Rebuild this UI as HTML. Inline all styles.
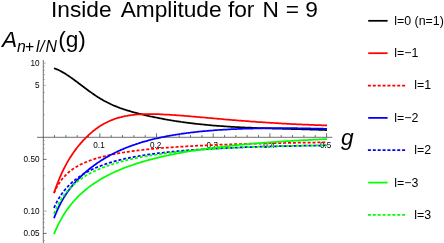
<!DOCTYPE html>
<html><head><meta charset="utf-8"><style>
html,body{margin:0;padding:0;background:#fff;}
body{width:444px;height:243px;overflow:hidden;}
svg{display:block;font-family:"Liberation Sans",sans-serif;will-change:transform;}
</style></head><body>
<svg width="444" height="243" viewBox="0 0 444 243">
<g stroke="#333" stroke-width="0.7" fill="none">
<line x1="37" y1="137.29999999999998" x2="332.3" y2="137.29999999999998"/>
<line x1="43.3" y1="60" x2="43.3" y2="243"/>
<line x1="54.5" y1="137.1" x2="54.5" y2="135.1"/>
<line x1="65.9" y1="137.1" x2="65.9" y2="135.1"/>
<line x1="77.2" y1="137.1" x2="77.2" y2="135.1"/>
<line x1="88.5" y1="137.1" x2="88.5" y2="135.1"/>
<line x1="99.9" y1="137.1" x2="99.9" y2="133.3"/>
<line x1="111.2" y1="137.1" x2="111.2" y2="135.1"/>
<line x1="122.5" y1="137.1" x2="122.5" y2="135.1"/>
<line x1="133.9" y1="137.1" x2="133.9" y2="135.1"/>
<line x1="145.2" y1="137.1" x2="145.2" y2="135.1"/>
<line x1="156.5" y1="137.1" x2="156.5" y2="133.3"/>
<line x1="167.9" y1="137.1" x2="167.9" y2="135.1"/>
<line x1="179.2" y1="137.1" x2="179.2" y2="135.1"/>
<line x1="190.5" y1="137.1" x2="190.5" y2="135.1"/>
<line x1="201.9" y1="137.1" x2="201.9" y2="135.1"/>
<line x1="213.2" y1="137.1" x2="213.2" y2="133.3"/>
<line x1="224.5" y1="137.1" x2="224.5" y2="135.1"/>
<line x1="235.9" y1="137.1" x2="235.9" y2="135.1"/>
<line x1="247.2" y1="137.1" x2="247.2" y2="135.1"/>
<line x1="258.5" y1="137.1" x2="258.5" y2="135.1"/>
<line x1="269.9" y1="137.1" x2="269.9" y2="133.3"/>
<line x1="281.2" y1="137.1" x2="281.2" y2="135.1"/>
<line x1="292.5" y1="137.1" x2="292.5" y2="135.1"/>
<line x1="303.9" y1="137.1" x2="303.9" y2="135.1"/>
<line x1="315.2" y1="137.1" x2="315.2" y2="135.1"/>
<line x1="326.6" y1="137.1" x2="326.6" y2="133.3"/>
<line x1="43.3" y1="63.1" x2="45.599999999999994" y2="63.1" stroke="#888"/>
<line x1="43.3" y1="85.4" x2="45.599999999999994" y2="85.4" stroke="#888"/>
<line x1="43.3" y1="159.4" x2="46.699999999999996" y2="159.4"/>
<line x1="43.3" y1="211.1" x2="46.699999999999996" y2="211.1" stroke="#888"/>
<line x1="43.3" y1="233.4" x2="46.699999999999996" y2="233.4"/>
</g>
<g stroke="#777" stroke-width="0.5" fill="none">
<line x1="43.3" y1="66.5" x2="45.0" y2="66.5"/>
<line x1="43.3" y1="70.3" x2="45.0" y2="70.3"/>
<line x1="43.3" y1="74.6" x2="45.0" y2="74.6"/>
<line x1="43.3" y1="79.5" x2="45.0" y2="79.5"/>
<line x1="43.3" y1="92.5" x2="45.0" y2="92.5"/>
<line x1="43.3" y1="101.8" x2="45.0" y2="101.8"/>
<line x1="43.3" y1="114.8" x2="45.0" y2="114.8"/>
<line x1="43.3" y1="140.5" x2="45.0" y2="140.5"/>
<line x1="43.3" y1="144.3" x2="45.0" y2="144.3"/>
<line x1="43.3" y1="148.6" x2="45.0" y2="148.6"/>
<line x1="43.3" y1="153.5" x2="45.0" y2="153.5"/>
<line x1="43.3" y1="166.5" x2="45.0" y2="166.5"/>
<line x1="43.3" y1="175.8" x2="45.0" y2="175.8"/>
<line x1="43.3" y1="188.8" x2="45.0" y2="188.8"/>
<line x1="43.3" y1="214.5" x2="45.0" y2="214.5"/>
<line x1="43.3" y1="218.3" x2="45.0" y2="218.3"/>
<line x1="43.3" y1="222.6" x2="45.0" y2="222.6"/>
<line x1="43.3" y1="227.5" x2="45.0" y2="227.5"/>
<line x1="43.3" y1="240.5" x2="45.0" y2="240.5"/>
</g>
<g font-size="8.2" fill="#000">
<text x="99.0" y="148.0" text-anchor="middle">0.1</text>
<text x="155.6" y="148.0" text-anchor="middle">0.2</text>
<text x="212.3" y="148.0" text-anchor="middle">0.3</text>
<text x="269.0" y="148.0" text-anchor="middle">0.4</text>
<text x="325.7" y="148.0" text-anchor="middle">0.5</text>
<text x="39.5" y="66.0" text-anchor="end">10</text>
<text x="39.5" y="88.3" text-anchor="end">5</text>
<text x="39.5" y="162.3" text-anchor="end">0.50</text>
<text x="39.5" y="214.0" text-anchor="end">0.10</text>
<text x="39.5" y="236.3" text-anchor="end">0.05</text>
</g>
<g fill="none" stroke-width="1.75" stroke-linecap="butt" stroke-linejoin="round">
<path d="M54.0,68.2 L55.0,68.6 L56.0,69.0 L57.0,69.4 L58.0,69.8 L59.0,70.3 L60.0,70.8 L61.0,71.3 L62.0,71.9 L63.0,72.4 L64.0,73.0 L65.0,73.6 L66.0,74.2 L67.0,74.9 L68.0,75.5 L69.0,76.2 L70.0,76.9 L71.0,77.6 L72.0,78.3 L73.0,79.0 L74.0,79.7 L75.0,80.5 L76.0,81.2 L77.0,81.9 L78.0,82.7 L79.0,83.5 L80.0,84.2 L81.0,85.0 L82.0,85.7 L83.0,86.5 L84.0,87.2 L85.0,88.0 L86.0,88.7 L87.0,89.5 L88.0,90.2 L89.0,91.0 L90.0,91.7 L91.0,92.4 L92.0,93.1 L93.0,93.8 L94.0,94.5 L95.0,95.2 L96.0,95.9 L97.0,96.6 L98.0,97.2 L99.0,97.8 L100.0,98.4 L101.0,99.0 L102.0,99.6 L103.0,100.2 L104.0,100.8 L105.0,101.3 L106.0,101.8 L107.0,102.3 L108.0,102.8 L109.0,103.3 L110.0,103.8 L111.0,104.3 L112.0,104.7 L113.0,105.2 L114.0,105.6 L115.0,106.0 L116.0,106.4 L117.0,106.8 L118.0,107.2 L119.0,107.6 L120.0,108.0 L121.0,108.3 L122.0,108.7 L123.0,109.0 L124.0,109.4 L125.0,109.7 L126.0,110.0 L127.0,110.3 L128.0,110.6 L129.0,110.9 L130.0,111.2 L131.0,111.5 L132.0,111.8 L133.0,112.1 L134.0,112.4 L135.0,112.6 L136.0,112.9 L137.0,113.2 L138.0,113.4 L139.0,113.7 L140.0,113.9 L141.0,114.2 L142.0,114.4 L143.0,114.7 L144.0,114.9 L145.0,115.1 L146.0,115.4 L147.0,115.6 L148.0,115.8 L149.0,116.0 L150.0,116.3 L151.0,116.5 L152.0,116.7 L153.0,116.9 L154.0,117.1 L155.0,117.3 L156.0,117.5 L157.0,117.7 L158.0,117.9 L159.0,118.1 L160.0,118.3 L161.0,118.5 L162.0,118.7 L163.0,118.9 L164.0,119.1 L165.0,119.3 L166.0,119.5 L167.0,119.6 L168.0,119.8 L169.0,120.0 L170.0,120.1 L171.0,120.3 L172.0,120.5 L173.0,120.6 L174.0,120.8 L175.0,121.0 L176.0,121.1 L177.0,121.3 L178.0,121.4 L179.0,121.6 L180.0,121.7 L181.0,121.9 L182.0,122.0 L183.0,122.1 L184.0,122.3 L185.0,122.4 L186.0,122.6 L187.0,122.7 L188.0,122.8 L189.0,122.9 L190.0,123.1 L191.0,123.2 L192.0,123.3 L193.0,123.4 L194.0,123.6 L195.0,123.7 L196.0,123.8 L197.0,123.9 L198.0,124.0 L199.0,124.1 L200.0,124.2 L201.0,124.3 L202.0,124.4 L203.0,124.5 L204.0,124.6 L205.0,124.7 L206.0,124.8 L207.0,124.9 L208.0,125.0 L209.0,125.1 L210.0,125.2 L211.0,125.3 L212.0,125.4 L213.0,125.5 L214.0,125.5 L215.0,125.6 L216.0,125.7 L217.0,125.8 L218.0,125.9 L219.0,125.9 L220.0,126.0 L221.0,126.1 L222.0,126.2 L223.0,126.2 L224.0,126.3 L225.0,126.4 L226.0,126.4 L227.0,126.5 L228.0,126.6 L229.0,126.6 L230.0,126.7 L231.0,126.8 L232.0,126.8 L233.0,126.9 L234.0,126.9 L235.0,127.0 L236.0,127.0 L237.0,127.1 L238.0,127.1 L239.0,127.2 L240.0,127.3 L241.0,127.3 L242.0,127.3 L243.0,127.4 L244.0,127.4 L245.0,127.5 L246.0,127.5 L247.0,127.6 L248.0,127.6 L249.0,127.7 L250.0,127.7 L251.0,127.7 L252.0,127.8 L253.0,127.8 L254.0,127.9 L255.0,127.9 L256.0,127.9 L257.0,128.0 L258.0,128.0 L259.0,128.1 L260.0,128.1 L261.0,128.1 L262.0,128.2 L263.0,128.2 L264.0,128.2 L265.0,128.3 L266.0,128.3 L267.0,128.3 L268.0,128.3 L269.0,128.4 L270.0,128.4 L271.0,128.4 L272.0,128.5 L273.0,128.5 L274.0,128.5 L275.0,128.5 L276.0,128.6 L277.0,128.6 L278.0,128.6 L279.0,128.7 L280.0,128.7 L281.0,128.7 L282.0,128.7 L283.0,128.8 L284.0,128.8 L285.0,128.8 L286.0,128.8 L287.0,128.9 L288.0,128.9 L289.0,128.9 L290.0,128.9 L291.0,129.0 L292.0,129.0 L293.0,129.0 L294.0,129.0 L295.0,129.1 L296.0,129.1 L297.0,129.1 L298.0,129.1 L299.0,129.2 L300.0,129.2 L301.0,129.2 L302.0,129.3 L303.0,129.3 L304.0,129.3 L305.0,129.3 L306.0,129.4 L307.0,129.4 L308.0,129.4 L309.0,129.4 L310.0,129.5 L311.0,129.5 L312.0,129.5 L313.0,129.6 L314.0,129.6 L315.0,129.6 L316.0,129.7 L317.0,129.7 L318.0,129.7 L319.0,129.8 L320.0,129.8 L321.0,129.8 L322.0,129.9 L323.0,129.9 L324.0,129.9 L325.0,130.0 L326.0,130.0 L327.0,130.1" stroke="#000000"/>
<path d="M54.0,193.0 L55.0,190.0 L56.0,187.2 L57.0,184.6 L58.0,182.0 L59.0,179.5 L60.0,177.1 L61.0,174.9 L62.0,172.7 L63.0,170.6 L64.0,168.5 L65.0,166.6 L66.0,164.7 L67.0,162.9 L68.0,161.1 L69.0,159.4 L70.0,157.8 L71.0,156.2 L72.0,154.7 L73.0,153.2 L74.0,151.8 L75.0,150.4 L76.0,149.1 L77.0,147.8 L78.0,146.5 L79.0,145.3 L80.0,144.1 L81.0,142.9 L82.0,141.8 L83.0,140.7 L84.0,139.6 L85.0,138.6 L86.0,137.6 L87.0,136.6 L88.0,135.6 L89.0,134.7 L90.0,133.8 L91.0,132.9 L92.0,132.1 L93.0,131.2 L94.0,130.4 L95.0,129.7 L96.0,128.9 L97.0,128.2 L98.0,127.5 L99.0,126.8 L100.0,126.1 L101.0,125.5 L102.0,124.9 L103.0,124.3 L104.0,123.7 L105.0,123.2 L106.0,122.7 L107.0,122.2 L108.0,121.7 L109.0,121.2 L110.0,120.8 L111.0,120.4 L112.0,120.0 L113.0,119.6 L114.0,119.2 L115.0,118.8 L116.0,118.5 L117.0,118.2 L118.0,117.9 L119.0,117.6 L120.0,117.3 L121.0,117.1 L122.0,116.8 L123.0,116.6 L124.0,116.4 L125.0,116.1 L126.0,116.0 L127.0,115.8 L128.0,115.6 L129.0,115.4 L130.0,115.3 L131.0,115.1 L132.0,115.0 L133.0,114.9 L134.0,114.8 L135.0,114.7 L136.0,114.6 L137.0,114.5 L138.0,114.4 L139.0,114.4 L140.0,114.3 L141.0,114.3 L142.0,114.2 L143.0,114.2 L144.0,114.1 L145.0,114.1 L146.0,114.1 L147.0,114.1 L148.0,114.1 L149.0,114.1 L150.0,114.1 L151.0,114.1 L152.0,114.1 L153.0,114.1 L154.0,114.1 L155.0,114.1 L156.0,114.1 L157.0,114.2 L158.0,114.2 L159.0,114.2 L160.0,114.3 L161.0,114.3 L162.0,114.4 L163.0,114.4 L164.0,114.5 L165.0,114.5 L166.0,114.6 L167.0,114.6 L168.0,114.7 L169.0,114.7 L170.0,114.8 L171.0,114.9 L172.0,114.9 L173.0,115.0 L174.0,115.1 L175.0,115.1 L176.0,115.2 L177.0,115.3 L178.0,115.3 L179.0,115.4 L180.0,115.5 L181.0,115.6 L182.0,115.6 L183.0,115.7 L184.0,115.8 L185.0,115.9 L186.0,116.0 L187.0,116.1 L188.0,116.1 L189.0,116.2 L190.0,116.3 L191.0,116.4 L192.0,116.5 L193.0,116.6 L194.0,116.6 L195.0,116.7 L196.0,116.8 L197.0,116.9 L198.0,117.0 L199.0,117.1 L200.0,117.2 L201.0,117.3 L202.0,117.3 L203.0,117.4 L204.0,117.5 L205.0,117.6 L206.0,117.7 L207.0,117.8 L208.0,117.9 L209.0,118.0 L210.0,118.1 L211.0,118.1 L212.0,118.2 L213.0,118.3 L214.0,118.4 L215.0,118.5 L216.0,118.6 L217.0,118.7 L218.0,118.8 L219.0,118.9 L220.0,118.9 L221.0,119.0 L222.0,119.1 L223.0,119.2 L224.0,119.3 L225.0,119.4 L226.0,119.5 L227.0,119.5 L228.0,119.6 L229.0,119.7 L230.0,119.8 L231.0,119.9 L232.0,120.0 L233.0,120.0 L234.0,120.1 L235.0,120.2 L236.0,120.3 L237.0,120.4 L238.0,120.5 L239.0,120.5 L240.0,120.6 L241.0,120.7 L242.0,120.8 L243.0,120.8 L244.0,120.9 L245.0,121.0 L246.0,121.1 L247.0,121.2 L248.0,121.2 L249.0,121.3 L250.0,121.4 L251.0,121.5 L252.0,121.5 L253.0,121.6 L254.0,121.7 L255.0,121.7 L256.0,121.8 L257.0,121.9 L258.0,122.0 L259.0,122.0 L260.0,122.1 L261.0,122.2 L262.0,122.2 L263.0,122.3 L264.0,122.4 L265.0,122.4 L266.0,122.5 L267.0,122.6 L268.0,122.6 L269.0,122.7 L270.0,122.8 L271.0,122.8 L272.0,122.9 L273.0,122.9 L274.0,123.0 L275.0,123.1 L276.0,123.1 L277.0,123.2 L278.0,123.2 L279.0,123.3 L280.0,123.4 L281.0,123.4 L282.0,123.5 L283.0,123.5 L284.0,123.6 L285.0,123.6 L286.0,123.7 L287.0,123.8 L288.0,123.8 L289.0,123.9 L290.0,123.9 L291.0,124.0 L292.0,124.0 L293.0,124.1 L294.0,124.1 L295.0,124.2 L296.0,124.2 L297.0,124.3 L298.0,124.3 L299.0,124.3 L300.0,124.4 L301.0,124.4 L302.0,124.5 L303.0,124.5 L304.0,124.6 L305.0,124.6 L306.0,124.7 L307.0,124.7 L308.0,124.7 L309.0,124.8 L310.0,124.8 L311.0,124.9 L312.0,124.9 L313.0,124.9 L314.0,125.0 L315.0,125.0 L316.0,125.0 L317.0,125.1 L318.0,125.1 L319.0,125.2 L320.0,125.2 L321.0,125.2 L322.0,125.3 L323.0,125.3 L324.0,125.3 L325.0,125.4 L326.0,125.4 L327.0,125.4" stroke="#ff0000"/>
<path d="M54.0,193.2 L55.0,190.8 L56.0,188.7 L57.0,186.8 L58.0,185.0 L59.0,183.4 L60.0,181.9 L61.0,180.5 L62.0,179.2 L63.0,178.0 L64.0,176.8 L65.0,175.8 L66.0,174.8 L67.0,173.8 L68.0,172.9 L69.0,172.0 L70.0,171.2 L71.0,170.5 L72.0,169.7 L73.0,169.0 L74.0,168.3 L75.0,167.7 L76.0,167.1 L77.0,166.5 L78.0,165.9 L79.0,165.4 L80.0,164.8 L81.0,164.3 L82.0,163.9 L83.0,163.4 L84.0,162.9 L85.0,162.5 L86.0,162.1 L87.0,161.7 L88.0,161.3 L89.0,160.9 L90.0,160.5 L91.0,160.2 L92.0,159.8 L93.0,159.5 L94.0,159.1 L95.0,158.8 L96.0,158.5 L97.0,158.2 L98.0,157.9 L99.0,157.6 L100.0,157.4 L101.0,157.1 L102.0,156.8 L103.0,156.6 L104.0,156.3 L105.0,156.1 L106.0,155.8 L107.0,155.6 L108.0,155.4 L109.0,155.2 L110.0,154.9 L111.0,154.7 L112.0,154.5 L113.0,154.3 L114.0,154.1 L115.0,153.9 L116.0,153.7 L117.0,153.6 L118.0,153.4 L119.0,153.2 L120.0,153.0 L121.0,152.9 L122.0,152.7 L123.0,152.5 L124.0,152.4 L125.0,152.2 L126.0,152.1 L127.0,151.9 L128.0,151.8 L129.0,151.6 L130.0,151.5 L131.0,151.3 L132.0,151.2 L133.0,151.1 L134.0,150.9 L135.0,150.8 L136.0,150.7 L137.0,150.6 L138.0,150.4 L139.0,150.3 L140.0,150.2 L141.0,150.1 L142.0,150.0 L143.0,149.8 L144.0,149.7 L145.0,149.6 L146.0,149.5 L147.0,149.4 L148.0,149.3 L149.0,149.2 L150.0,149.1 L151.0,149.0 L152.0,148.9 L153.0,148.8 L154.0,148.7 L155.0,148.6 L156.0,148.5 L157.0,148.5 L158.0,148.4 L159.0,148.3 L160.0,148.2 L161.0,148.1 L162.0,148.0 L163.0,147.9 L164.0,147.9 L165.0,147.8 L166.0,147.7 L167.0,147.6 L168.0,147.6 L169.0,147.5 L170.0,147.4 L171.0,147.3 L172.0,147.3 L173.0,147.2 L174.0,147.1 L175.0,147.0 L176.0,147.0 L177.0,146.9 L178.0,146.8 L179.0,146.8 L180.0,146.7 L181.0,146.7 L182.0,146.6 L183.0,146.5 L184.0,146.5 L185.0,146.4 L186.0,146.4 L187.0,146.3 L188.0,146.2 L189.0,146.2 L190.0,146.1 L191.0,146.1 L192.0,146.0 L193.0,146.0 L194.0,145.9 L195.0,145.9 L196.0,145.8 L197.0,145.7 L198.0,145.7 L199.0,145.6 L200.0,145.6 L201.0,145.5 L202.0,145.5 L203.0,145.5 L204.0,145.4 L205.0,145.4 L206.0,145.3 L207.0,145.3 L208.0,145.2 L209.0,145.2 L210.0,145.1 L211.0,145.1 L212.0,145.0 L213.0,145.0 L214.0,145.0 L215.0,144.9 L216.0,144.9 L217.0,144.8 L218.0,144.8 L219.0,144.8 L220.0,144.7 L221.0,144.7 L222.0,144.6 L223.0,144.6 L224.0,144.6 L225.0,144.5 L226.0,144.5 L227.0,144.5 L228.0,144.4 L229.0,144.4 L230.0,144.4 L231.0,144.3 L232.0,144.3 L233.0,144.3 L234.0,144.2 L235.0,144.2 L236.0,144.2 L237.0,144.1 L238.0,144.1 L239.0,144.1 L240.0,144.0 L241.0,144.0 L242.0,144.0 L243.0,143.9 L244.0,143.9 L245.0,143.9 L246.0,143.9 L247.0,143.8 L248.0,143.8 L249.0,143.8 L250.0,143.7 L251.0,143.7 L252.0,143.7 L253.0,143.7 L254.0,143.6 L255.0,143.6 L256.0,143.6 L257.0,143.6 L258.0,143.5 L259.0,143.5 L260.0,143.5 L261.0,143.5 L262.0,143.4 L263.0,143.4 L264.0,143.4 L265.0,143.4 L266.0,143.3 L267.0,143.3 L268.0,143.3 L269.0,143.3 L270.0,143.2 L271.0,143.2 L272.0,143.2 L273.0,143.2 L274.0,143.2 L275.0,143.1 L276.0,143.1 L277.0,143.1 L278.0,143.1 L279.0,143.1 L280.0,143.0 L281.0,143.0 L282.0,143.0 L283.0,143.0 L284.0,143.0 L285.0,142.9 L286.0,142.9 L287.0,142.9 L288.0,142.9 L289.0,142.9 L290.0,142.8 L291.0,142.8 L292.0,142.8 L293.0,142.8 L294.0,142.8 L295.0,142.8 L296.0,142.7 L297.0,142.7 L298.0,142.7 L299.0,142.7 L300.0,142.7 L301.0,142.7 L302.0,142.6 L303.0,142.6 L304.0,142.6 L305.0,142.6 L306.0,142.6 L307.0,142.6 L308.0,142.6 L309.0,142.5 L310.0,142.5 L311.0,142.5 L312.0,142.5 L313.0,142.5 L314.0,142.5 L315.0,142.5 L316.0,142.4 L317.0,142.4 L318.0,142.4 L319.0,142.4 L320.0,142.4 L321.0,142.4 L322.0,142.4 L323.0,142.3 L324.0,142.3 L325.0,142.3 L326.0,142.3 L327.0,142.3" stroke="#ff0000" stroke-dasharray="3 1.9"/>
<path d="M54.0,218.3 L55.0,215.6 L56.0,213.2 L57.0,210.8 L58.0,208.6 L59.0,206.5 L60.0,204.5 L61.0,202.6 L62.0,200.8 L63.0,199.0 L64.0,197.4 L65.0,195.8 L66.0,194.2 L67.0,192.8 L68.0,191.3 L69.0,190.0 L70.0,188.6 L71.0,187.3 L72.0,186.1 L73.0,184.9 L74.0,183.7 L75.0,182.5 L76.0,181.4 L77.0,180.4 L78.0,179.3 L79.0,178.3 L80.0,177.3 L81.0,176.3 L82.0,175.3 L83.0,174.4 L84.0,173.5 L85.0,172.6 L86.0,171.8 L87.0,170.9 L88.0,170.1 L89.0,169.3 L90.0,168.5 L91.0,167.7 L92.0,166.9 L93.0,166.2 L94.0,165.4 L95.0,164.7 L96.0,164.0 L97.0,163.3 L98.0,162.6 L99.0,161.9 L100.0,161.3 L101.0,160.6 L102.0,160.0 L103.0,159.4 L104.0,158.8 L105.0,158.2 L106.0,157.6 L107.0,157.0 L108.0,156.4 L109.0,155.9 L110.0,155.3 L111.0,154.8 L112.0,154.3 L113.0,153.7 L114.0,153.2 L115.0,152.7 L116.0,152.2 L117.0,151.8 L118.0,151.3 L119.0,150.8 L120.0,150.4 L121.0,149.9 L122.0,149.5 L123.0,149.1 L124.0,148.6 L125.0,148.2 L126.0,147.8 L127.0,147.4 L128.1,147.0 L129.1,146.6 L130.1,146.2 L131.1,145.9 L132.1,145.5 L133.1,145.2 L134.1,144.8 L135.1,144.5 L136.1,144.1 L137.1,143.8 L138.1,143.5 L139.1,143.1 L140.1,142.8 L141.1,142.5 L142.1,142.2 L143.1,141.9 L144.1,141.6 L145.1,141.3 L146.1,141.1 L147.1,140.8 L148.1,140.5 L149.1,140.2 L150.1,140.0 L151.1,139.7 L152.1,139.5 L153.1,139.2 L154.1,139.0 L155.1,138.7 L156.1,138.5 L157.1,138.3 L158.1,138.1 L159.1,137.8 L160.1,137.6 L161.1,137.4 L162.1,137.2 L163.1,137.0 L164.1,136.8 L165.1,136.6 L166.1,136.4 L167.1,136.2 L168.1,136.0 L169.1,135.8 L170.1,135.6 L171.1,135.5 L172.1,135.3 L173.1,135.1 L174.1,135.0 L175.1,134.8 L176.1,134.6 L177.1,134.5 L178.1,134.3 L179.1,134.2 L180.1,134.0 L181.1,133.9 L182.1,133.7 L183.1,133.6 L184.1,133.4 L185.1,133.3 L186.1,133.2 L187.1,133.0 L188.1,132.9 L189.1,132.8 L190.1,132.7 L191.1,132.5 L192.1,132.4 L193.1,132.3 L194.1,132.2 L195.1,132.1 L196.1,132.0 L197.1,131.8 L198.1,131.7 L199.1,131.6 L200.1,131.5 L201.1,131.4 L202.1,131.3 L203.1,131.2 L204.1,131.1 L205.1,131.1 L206.1,131.0 L207.1,130.9 L208.1,130.8 L209.1,130.7 L210.1,130.6 L211.1,130.5 L212.1,130.5 L213.1,130.4 L214.1,130.3 L215.1,130.2 L216.1,130.2 L217.1,130.1 L218.1,130.0 L219.1,129.9 L220.1,129.9 L221.1,129.8 L222.1,129.8 L223.1,129.7 L224.1,129.6 L225.1,129.6 L226.1,129.5 L227.1,129.5 L228.1,129.4 L229.1,129.4 L230.1,129.3 L231.1,129.2 L232.1,129.2 L233.1,129.2 L234.1,129.1 L235.1,129.1 L236.1,129.0 L237.1,129.0 L238.1,128.9 L239.1,128.9 L240.1,128.9 L241.1,128.8 L242.1,128.8 L243.1,128.7 L244.1,128.7 L245.1,128.7 L246.1,128.6 L247.1,128.6 L248.1,128.6 L249.1,128.6 L250.1,128.5 L251.1,128.5 L252.1,128.5 L253.1,128.5 L254.1,128.4 L255.1,128.4 L256.1,128.4 L257.1,128.4 L258.1,128.3 L259.1,128.3 L260.1,128.3 L261.1,128.3 L262.1,128.3 L263.1,128.3 L264.1,128.2 L265.1,128.2 L266.1,128.2 L267.1,128.2 L268.1,128.2 L269.1,128.2 L270.1,128.2 L271.1,128.2 L272.1,128.2 L273.1,128.2 L274.1,128.2 L275.1,128.2 L276.1,128.1 L277.1,128.1 L278.1,128.1 L279.1,128.1 L280.1,128.1 L281.1,128.1 L282.1,128.1 L283.1,128.1 L284.1,128.1 L285.1,128.2 L286.1,128.2 L287.1,128.2 L288.1,128.2 L289.1,128.2 L290.1,128.2 L291.1,128.2 L292.1,128.2 L293.1,128.2 L294.1,128.2 L295.1,128.2 L296.1,128.2 L297.1,128.2 L298.1,128.3 L299.1,128.3 L300.1,128.3 L301.1,128.3 L302.1,128.3 L303.1,128.3 L304.1,128.3 L305.1,128.4 L306.1,128.4 L307.1,128.4 L308.1,128.4 L309.1,128.4 L310.1,128.4 L311.1,128.5 L312.1,128.5 L313.1,128.5 L314.1,128.5 L315.1,128.6 L316.1,128.6 L317.1,128.6 L318.1,128.6 L319.1,128.6 L320.1,128.7 L321.1,128.7 L322.1,128.7 L323.1,128.7 L324.1,128.8 L325.1,128.8 L326.1,128.8 L327.0,128.9" stroke="#0000ff"/>
<path d="M54.0,207.8 L55.0,205.6 L56.0,203.5 L57.0,201.6 L58.0,199.8 L59.0,198.1 L60.0,196.5 L61.0,195.0 L62.0,193.6 L63.0,192.2 L64.0,190.9 L65.0,189.7 L66.0,188.5 L67.0,187.4 L68.0,186.3 L69.0,185.3 L70.0,184.3 L71.0,183.4 L72.0,182.5 L73.0,181.6 L74.0,180.7 L75.0,179.9 L76.0,179.1 L77.0,178.4 L78.0,177.6 L79.0,176.9 L80.0,176.3 L81.0,175.6 L82.0,175.0 L83.0,174.3 L84.0,173.7 L85.0,173.1 L86.0,172.6 L87.0,172.0 L88.0,171.5 L89.0,171.0 L90.0,170.5 L91.0,170.0 L92.0,169.5 L93.0,169.0 L94.0,168.6 L95.0,168.1 L96.0,167.7 L97.0,167.3 L98.0,166.9 L99.0,166.5 L100.0,166.1 L101.0,165.7 L102.0,165.3 L103.0,165.0 L104.0,164.6 L105.0,164.3 L106.0,163.9 L107.0,163.6 L108.0,163.3 L109.0,163.0 L110.0,162.7 L111.0,162.4 L112.0,162.1 L113.0,161.8 L114.0,161.5 L115.0,161.2 L116.0,160.9 L117.0,160.7 L118.0,160.4 L119.0,160.2 L120.0,159.9 L121.0,159.7 L122.0,159.4 L123.0,159.2 L124.0,159.0 L125.0,158.7 L126.0,158.5 L127.0,158.3 L128.1,158.1 L129.1,157.9 L130.1,157.7 L131.1,157.5 L132.1,157.3 L133.1,157.1 L134.1,156.9 L135.1,156.7 L136.1,156.5 L137.1,156.3 L138.1,156.2 L139.1,156.0 L140.1,155.8 L141.1,155.7 L142.1,155.5 L143.1,155.3 L144.1,155.2 L145.1,155.0 L146.1,154.9 L147.1,154.7 L148.1,154.6 L149.1,154.4 L150.1,154.3 L151.1,154.2 L152.1,154.0 L153.1,153.9 L154.1,153.8 L155.1,153.6 L156.1,153.5 L157.1,153.4 L158.1,153.2 L159.1,153.1 L160.1,153.0 L161.1,152.9 L162.1,152.8 L163.1,152.7 L164.1,152.5 L165.1,152.4 L166.1,152.3 L167.1,152.2 L168.1,152.1 L169.1,152.0 L170.1,151.9 L171.1,151.8 L172.1,151.7 L173.1,151.6 L174.1,151.5 L175.1,151.4 L176.1,151.3 L177.1,151.2 L178.1,151.1 L179.1,151.1 L180.1,151.0 L181.1,150.9 L182.1,150.8 L183.1,150.7 L184.1,150.6 L185.1,150.5 L186.1,150.5 L187.1,150.4 L188.1,150.3 L189.1,150.2 L190.1,150.2 L191.1,150.1 L192.1,150.0 L193.1,149.9 L194.1,149.9 L195.1,149.8 L196.1,149.7 L197.1,149.7 L198.1,149.6 L199.1,149.5 L200.1,149.5 L201.1,149.4 L202.1,149.3 L203.1,149.3 L204.1,149.2 L205.1,149.1 L206.1,149.1 L207.1,149.0 L208.1,149.0 L209.1,148.9 L210.1,148.8 L211.1,148.8 L212.1,148.7 L213.1,148.7 L214.1,148.6 L215.1,148.6 L216.1,148.5 L217.1,148.5 L218.1,148.4 L219.1,148.4 L220.1,148.3 L221.1,148.3 L222.1,148.2 L223.1,148.2 L224.1,148.1 L225.1,148.1 L226.1,148.0 L227.1,148.0 L228.1,147.9 L229.1,147.9 L230.1,147.8 L231.1,147.8 L232.1,147.8 L233.1,147.7 L234.1,147.7 L235.1,147.6 L236.1,147.6 L237.1,147.5 L238.1,147.5 L239.1,147.5 L240.1,147.4 L241.1,147.4 L242.1,147.4 L243.1,147.3 L244.1,147.3 L245.1,147.2 L246.1,147.2 L247.1,147.2 L248.1,147.1 L249.1,147.1 L250.1,147.1 L251.1,147.0 L252.1,147.0 L253.1,147.0 L254.1,146.9 L255.1,146.9 L256.1,146.9 L257.1,146.8 L258.1,146.8 L259.1,146.8 L260.1,146.7 L261.1,146.7 L262.1,146.7 L263.1,146.7 L264.1,146.6 L265.1,146.6 L266.1,146.6 L267.1,146.5 L268.1,146.5 L269.1,146.5 L270.1,146.5 L271.1,146.4 L272.1,146.4 L273.1,146.4 L274.1,146.4 L275.1,146.3 L276.1,146.3 L277.1,146.3 L278.1,146.3 L279.1,146.2 L280.1,146.2 L281.1,146.2 L282.1,146.2 L283.1,146.1 L284.1,146.1 L285.1,146.1 L286.1,146.1 L287.1,146.0 L288.1,146.0 L289.1,146.0 L290.1,146.0 L291.1,146.0 L292.1,145.9 L293.1,145.9 L294.1,145.9 L295.1,145.9 L296.1,145.9 L297.1,145.8 L298.1,145.8 L299.1,145.8 L300.1,145.8 L301.1,145.8 L302.1,145.8 L303.1,145.7 L304.1,145.7 L305.1,145.7 L306.1,145.7 L307.1,145.7 L308.1,145.6 L309.1,145.6 L310.1,145.6 L311.1,145.6 L312.1,145.6 L313.1,145.6 L314.1,145.6 L315.1,145.5 L316.1,145.5 L317.1,145.5 L318.1,145.5 L319.1,145.5 L320.1,145.5 L321.1,145.4 L322.1,145.4 L323.1,145.4 L324.1,145.4 L325.1,145.4 L326.1,145.4 L327.0,145.4" stroke="#0000ff" stroke-dasharray="3 1.9"/>
<path d="M54.0,234.1 L55.0,231.7 L56.0,229.4 L57.0,227.2 L58.0,225.1 L59.0,223.1 L60.0,221.2 L61.0,219.4 L62.0,217.6 L63.0,215.9 L64.0,214.3 L65.0,212.8 L66.0,211.3 L67.0,209.8 L68.0,208.4 L69.0,207.1 L70.0,205.8 L71.0,204.5 L72.0,203.3 L73.0,202.1 L74.0,201.0 L75.0,199.8 L76.0,198.8 L77.0,197.7 L78.0,196.7 L79.0,195.7 L80.0,194.7 L81.0,193.8 L82.0,192.9 L83.0,192.0 L84.0,191.1 L85.0,190.3 L86.0,189.5 L87.0,188.6 L88.0,187.9 L89.0,187.1 L90.0,186.3 L91.0,185.6 L92.0,184.9 L93.0,184.2 L94.0,183.5 L95.0,182.8 L96.0,182.2 L97.0,181.5 L98.0,180.9 L99.0,180.3 L100.0,179.7 L101.0,179.1 L102.0,178.5 L103.0,177.9 L104.0,177.4 L105.0,176.8 L106.0,176.3 L107.0,175.7 L108.0,175.2 L109.0,174.7 L110.0,174.2 L111.0,173.7 L112.0,173.2 L113.0,172.8 L114.0,172.3 L115.0,171.8 L116.0,171.4 L117.0,170.9 L118.0,170.5 L119.0,170.1 L120.0,169.7 L121.0,169.2 L122.0,168.8 L123.0,168.4 L124.0,168.0 L125.0,167.7 L126.0,167.3 L127.0,166.9 L128.1,166.5 L129.1,166.2 L130.1,165.8 L131.1,165.5 L132.1,165.1 L133.1,164.8 L134.1,164.4 L135.1,164.1 L136.1,163.8 L137.1,163.4 L138.1,163.1 L139.1,162.8 L140.1,162.5 L141.1,162.2 L142.1,161.9 L143.1,161.6 L144.1,161.3 L145.1,161.0 L146.1,160.7 L147.1,160.4 L148.1,160.2 L149.1,159.9 L150.1,159.6 L151.1,159.4 L152.1,159.1 L153.1,158.8 L154.1,158.6 L155.1,158.3 L156.1,158.1 L157.1,157.8 L158.1,157.6 L159.1,157.3 L160.1,157.1 L161.1,156.9 L162.1,156.6 L163.1,156.4 L164.1,156.2 L165.1,156.0 L166.1,155.8 L167.1,155.5 L168.1,155.3 L169.1,155.1 L170.1,154.9 L171.1,154.7 L172.1,154.5 L173.1,154.3 L174.1,154.1 L175.1,153.9 L176.1,153.7 L177.1,153.5 L178.1,153.3 L179.1,153.1 L180.1,152.9 L181.1,152.8 L182.1,152.6 L183.1,152.4 L184.1,152.2 L185.1,152.0 L186.1,151.9 L187.1,151.7 L188.1,151.5 L189.1,151.4 L190.1,151.2 L191.1,151.0 L192.1,150.9 L193.1,150.7 L194.1,150.6 L195.1,150.4 L196.1,150.2 L197.1,150.1 L198.1,149.9 L199.1,149.8 L200.1,149.6 L201.1,149.5 L202.1,149.3 L203.1,149.2 L204.1,149.1 L205.1,148.9 L206.1,148.8 L207.1,148.6 L208.1,148.5 L209.1,148.4 L210.1,148.2 L211.1,148.1 L212.1,148.0 L213.1,147.8 L214.1,147.7 L215.1,147.6 L216.1,147.5 L217.1,147.3 L218.1,147.2 L219.1,147.1 L220.1,147.0 L221.1,146.9 L222.1,146.7 L223.1,146.6 L224.1,146.5 L225.1,146.4 L226.1,146.3 L227.1,146.2 L228.1,146.1 L229.1,146.0 L230.1,145.8 L231.1,145.7 L232.1,145.6 L233.1,145.5 L234.1,145.4 L235.1,145.3 L236.1,145.2 L237.1,145.1 L238.1,145.0 L239.1,144.9 L240.1,144.8 L241.1,144.7 L242.1,144.6 L243.1,144.5 L244.1,144.4 L245.1,144.3 L246.1,144.2 L247.1,144.2 L248.1,144.1 L249.1,144.0 L250.1,143.9 L251.1,143.8 L252.1,143.7 L253.1,143.6 L254.1,143.5 L255.1,143.5 L256.1,143.4 L257.1,143.3 L258.1,143.2 L259.1,143.1 L260.1,143.0 L261.1,143.0 L262.1,142.9 L263.1,142.8 L264.1,142.7 L265.1,142.7 L266.1,142.6 L267.1,142.5 L268.1,142.4 L269.1,142.4 L270.1,142.3 L271.1,142.2 L272.1,142.1 L273.1,142.1 L274.1,142.0 L275.1,141.9 L276.1,141.9 L277.1,141.8 L278.1,141.7 L279.1,141.6 L280.1,141.6 L281.1,141.5 L282.1,141.5 L283.1,141.4 L284.1,141.3 L285.1,141.3 L286.1,141.2 L287.1,141.1 L288.1,141.1 L289.1,141.0 L290.1,141.0 L291.1,140.9 L292.1,140.8 L293.1,140.8 L294.1,140.7 L295.1,140.7 L296.1,140.6 L297.1,140.5 L298.1,140.5 L299.1,140.4 L300.1,140.4 L301.1,140.3 L302.1,140.3 L303.1,140.2 L304.1,140.2 L305.1,140.1 L306.1,140.1 L307.1,140.0 L308.1,140.0 L309.1,139.9 L310.1,139.9 L311.1,139.8 L312.1,139.8 L313.1,139.7 L314.1,139.7 L315.1,139.6 L316.1,139.6 L317.1,139.5 L318.1,139.5 L319.1,139.4 L320.1,139.4 L321.1,139.3 L322.1,139.3 L323.1,139.2 L324.1,139.2 L325.1,139.2 L326.1,139.1 L327.0,139.1" stroke="#00ff00"/>
<path d="M54.0,213.7 L55.0,211.2 L56.0,209.0 L57.0,206.9 L58.0,204.9 L59.0,203.1 L60.0,201.3 L61.0,199.7 L62.0,198.1 L63.0,196.7 L64.0,195.3 L65.0,194.0 L66.0,192.7 L67.0,191.5 L68.0,190.3 L69.0,189.2 L70.0,188.2 L71.0,187.2 L72.0,186.2 L73.0,185.3 L74.0,184.4 L75.0,183.5 L76.0,182.7 L77.0,181.8 L78.0,181.1 L79.0,180.3 L80.0,179.6 L81.0,178.9 L82.0,178.2 L83.0,177.5 L84.0,176.9 L85.0,176.2 L86.0,175.6 L87.0,175.0 L88.0,174.5 L89.0,173.9 L90.0,173.4 L91.0,172.8 L92.0,172.3 L93.0,171.8 L94.0,171.3 L95.0,170.9 L96.0,170.4 L97.0,169.9 L98.0,169.5 L99.0,169.1 L100.0,168.6 L101.0,168.2 L102.0,167.8 L103.0,167.4 L104.0,167.1 L105.0,166.7 L106.0,166.3 L107.0,166.0 L108.0,165.6 L109.0,165.3 L110.0,164.9 L111.0,164.6 L112.0,164.3 L113.0,164.0 L114.0,163.6 L115.0,163.3 L116.0,163.0 L117.0,162.8 L118.0,162.5 L119.0,162.2 L120.0,161.9 L121.0,161.6 L122.0,161.4 L123.0,161.1 L124.0,160.9 L125.0,160.6 L126.0,160.4 L127.0,160.1 L128.1,159.9 L129.1,159.7 L130.1,159.4 L131.1,159.2 L132.1,159.0 L133.1,158.8 L134.1,158.5 L135.1,158.3 L136.1,158.1 L137.1,157.9 L138.1,157.7 L139.1,157.5 L140.1,157.3 L141.1,157.2 L142.1,157.0 L143.1,156.8 L144.1,156.6 L145.1,156.4 L146.1,156.3 L147.1,156.1 L148.1,155.9 L149.1,155.7 L150.1,155.6 L151.1,155.4 L152.1,155.3 L153.1,155.1 L154.1,155.0 L155.1,154.8 L156.1,154.7 L157.1,154.5 L158.1,154.4 L159.1,154.2 L160.1,154.1 L161.1,153.9 L162.1,153.8 L163.1,153.7 L164.1,153.5 L165.1,153.4 L166.1,153.3 L167.1,153.2 L168.1,153.0 L169.1,152.9 L170.1,152.8 L171.1,152.7 L172.1,152.6 L173.1,152.4 L174.1,152.3 L175.1,152.2 L176.1,152.1 L177.1,152.0 L178.1,151.9 L179.1,151.8 L180.1,151.7 L181.1,151.6 L182.1,151.5 L183.1,151.4 L184.1,151.3 L185.1,151.2 L186.1,151.1 L187.1,151.0 L188.1,150.9 L189.1,150.8 L190.1,150.7 L191.1,150.6 L192.1,150.5 L193.1,150.4 L194.1,150.4 L195.1,150.3 L196.1,150.2 L197.1,150.1 L198.1,150.0 L199.1,149.9 L200.1,149.9 L201.1,149.8 L202.1,149.7 L203.1,149.6 L204.1,149.6 L205.1,149.5 L206.1,149.4 L207.1,149.3 L208.1,149.3 L209.1,149.2 L210.1,149.1 L211.1,149.1 L212.1,149.0 L213.1,148.9 L214.1,148.9 L215.1,148.8 L216.1,148.7 L217.1,148.7 L218.1,148.6 L219.1,148.6 L220.1,148.5 L221.1,148.4 L222.1,148.4 L223.1,148.3 L224.1,148.3 L225.1,148.2 L226.1,148.2 L227.1,148.1 L228.1,148.0 L229.1,148.0 L230.1,147.9 L231.1,147.9 L232.1,147.8 L233.1,147.8 L234.1,147.7 L235.1,147.7 L236.1,147.6 L237.1,147.6 L238.1,147.6 L239.1,147.5 L240.1,147.5 L241.1,147.4 L242.1,147.4 L243.1,147.3 L244.1,147.3 L245.1,147.2 L246.1,147.2 L247.1,147.2 L248.1,147.1 L249.1,147.1 L250.1,147.0 L251.1,147.0 L252.1,147.0 L253.1,146.9 L254.1,146.9 L255.1,146.9 L256.1,146.8 L257.1,146.8 L258.1,146.7 L259.1,146.7 L260.1,146.7 L261.1,146.6 L262.1,146.6 L263.1,146.6 L264.1,146.5 L265.1,146.5 L266.1,146.5 L267.1,146.5 L268.1,146.4 L269.1,146.4 L270.1,146.4 L271.1,146.3 L272.1,146.3 L273.1,146.3 L274.1,146.2 L275.1,146.2 L276.1,146.2 L277.1,146.2 L278.1,146.1 L279.1,146.1 L280.1,146.1 L281.1,146.1 L282.1,146.0 L283.1,146.0 L284.1,146.0 L285.1,146.0 L286.1,146.0 L287.1,145.9 L288.1,145.9 L289.1,145.9 L290.1,145.9 L291.1,145.8 L292.1,145.8 L293.1,145.8 L294.1,145.8 L295.1,145.8 L296.1,145.7 L297.1,145.7 L298.1,145.7 L299.1,145.7 L300.1,145.7 L301.1,145.7 L302.1,145.6 L303.1,145.6 L304.1,145.6 L305.1,145.6 L306.1,145.6 L307.1,145.6 L308.1,145.5 L309.1,145.5 L310.1,145.5 L311.1,145.5 L312.1,145.5 L313.1,145.5 L314.1,145.5 L315.1,145.4 L316.1,145.4 L317.1,145.4 L318.1,145.4 L319.1,145.4 L320.1,145.4 L321.1,145.4 L322.1,145.4 L323.1,145.4 L324.1,145.3 L325.1,145.3 L326.1,145.3 L327.0,145.3" stroke="#00ff00" stroke-dasharray="3 1.9"/>
</g>
<g font-size="12.4" fill="#000">
<line x1="368.2" y1="20.8" x2="387.6" y2="20.8" stroke="#000" stroke-width="1.75"/>
<text x="394.2" y="24.7">l=0 (n=1)</text>
<line x1="368.2" y1="53.2" x2="387.6" y2="53.2" stroke="#f00" stroke-width="1.75"/>
<text x="394.2" y="57.1">l=−1</text>
<line x1="367.9" y1="85.5" x2="405.2" y2="85.5" stroke="#f00" stroke-width="1.75" stroke-dasharray="3 1.886"/>
<text x="414.2" y="89.4">l=1</text>
<line x1="368.2" y1="117.9" x2="387.6" y2="117.9" stroke="#00f" stroke-width="1.75"/>
<text x="394.2" y="121.8">l=−2</text>
<line x1="367.9" y1="150.2" x2="405.2" y2="150.2" stroke="#00f" stroke-width="1.75" stroke-dasharray="3 1.886"/>
<text x="414.2" y="154.1">l=2</text>
<line x1="368.2" y1="182.6" x2="387.6" y2="182.6" stroke="#0f0" stroke-width="1.75"/>
<text x="394.2" y="186.5">l=−3</text>
<line x1="367.9" y1="214.9" x2="405.2" y2="214.9" stroke="#0f0" stroke-width="1.75" stroke-dasharray="3 1.886"/>
<text x="414.2" y="218.8">l=3</text>
</g>
<text x="51.0" y="17.0" font-size="22.7">Inside</text>
<text x="120.7" y="17.0" font-size="22.7">Amplitude</text>
<text x="227.9" y="17.0" font-size="22.7">for</text>
<text x="262.5" y="17.0" font-size="22.7">N</text>
<text x="285.7" y="17.0" font-size="22.7">=</text>
<text x="305.3" y="17.0" font-size="22.7">9</text>
<text x="2.0" y="46.5" font-size="22.7" font-style="italic">A</text>
<text x="17.0" y="51.7" font-size="15.8" font-style="italic">n</text>
<text x="24.7" y="51.7" font-size="15.8" font-style="italic">+</text>
<text x="36.0" y="51.7" font-size="15.8" font-style="italic">l</text>
<text x="39.9" y="51.7" font-size="15.8" font-style="italic">/</text>
<text x="45.4" y="51.7" font-size="15.8" font-style="italic">N</text>
<text x="58.2" y="46.5" font-size="22.7">(g)</text>
<text x="340.9" y="145.4" font-size="22.7" font-style="italic">g</text>
</svg>
</body></html>
